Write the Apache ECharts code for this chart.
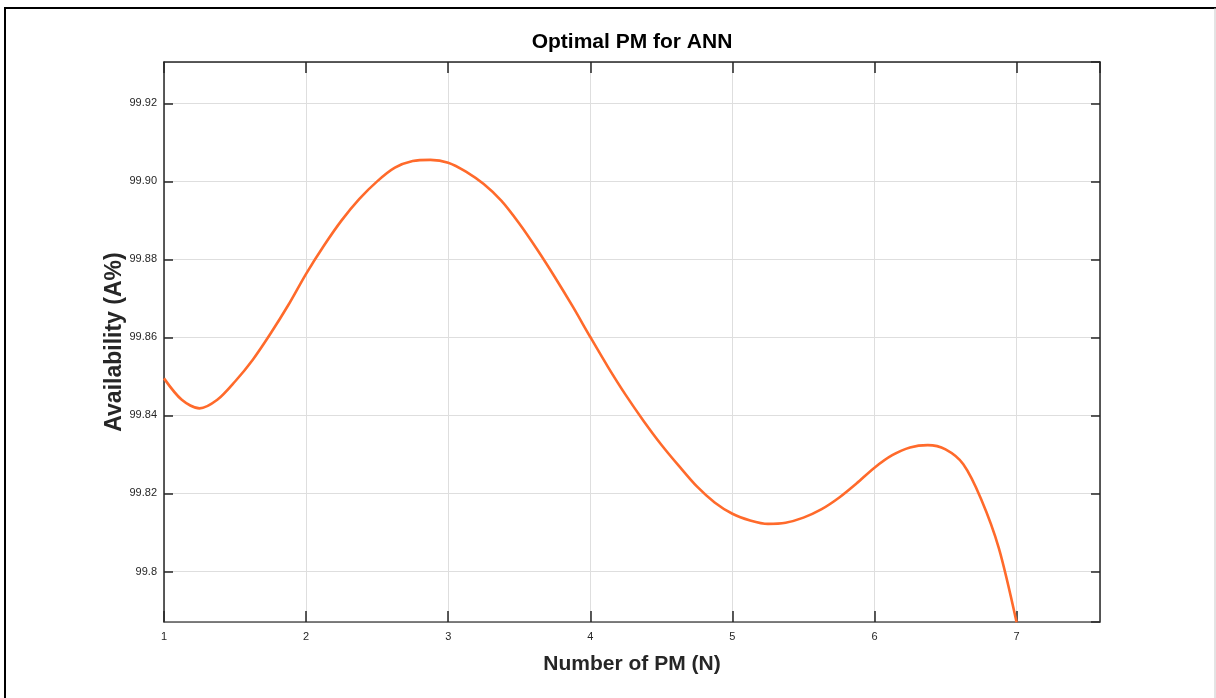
<!DOCTYPE html>
<html>
<head>
<meta charset="utf-8">
<title>Optimal PM for ANN</title>
<script src="https://cdn.jsdelivr.net/npm/echarts@6/dist/echarts.min.js"></script>
<style>
  html, body { margin: 0; padding: 0; background: #fff; }
  #chart { width: 1216px; height: 698px; }
</style>
</head>
<body>
<div id="chart"></div>
<script>
// 数据：读图得到的曲线点
var pmNumber = [1.000, 1.125, 1.250, 1.375, 1.500, 1.625, 1.750, 1.875, 2.000, 2.125,
  2.250, 2.375, 2.500, 2.625, 2.750, 2.875, 3.000, 3.125, 3.250, 3.375, 3.500, 3.625,
  3.750, 3.875, 4.000, 4.125, 4.250, 4.375, 4.500, 4.625, 4.750, 4.875, 5.000, 5.125,
  5.250, 5.375, 5.500, 5.625, 5.750, 5.875, 6.000, 6.125, 6.250, 6.375, 6.500, 6.625,
  6.750, 6.875, 7.000];
var availability = [99.8495, 99.8440, 99.8418, 99.8440, 99.8487, 99.8543, 99.8610, 99.8683,
  99.8763, 99.8835, 99.8900, 99.8955, 99.9000, 99.9035, 99.9052, 99.9055, 99.9048, 99.9025,
  99.8993, 99.8950, 99.8892, 99.8826, 99.8755, 99.8680, 99.8601, 99.8524, 99.8452, 99.8386,
  99.8325, 99.8270, 99.8218, 99.8177, 99.8148, 99.8131, 99.8122, 99.8125, 99.8138, 99.8159,
  99.8189, 99.8226, 99.8266, 99.8298, 99.8318, 99.8324, 99.8313, 99.8275, 99.8186, 99.8060,
  99.7870];
var xRange = [1, 7.587];
var yRange = [99.78705, 99.9306];

var chart = echarts.init(document.getElementById("chart"));
var textColor = "#262626";
var fontFamily = "'Liberation Sans', Arial, sans-serif";

function yLabel(v) {
  if (Math.abs(v - 99.8) < 1e-6) return "99.8";
  return v.toFixed(2);
}

var points = pmNumber.map(function (x, i) {
  return [x, availability[i]];
});

chart.setOption({
  animation: false,
  textStyle: { fontFamily: fontFamily },
  grid: { left: 164, top: 62, right: 116, bottom: 76 },
  graphic: [
    // 外框
    { type: "line", shape: { x1: 4, y1: 8, x2: 1216, y2: 8 }, style: { stroke: "#000", lineWidth: 2 } },
    { type: "line", shape: { x1: 5, y1: 8, x2: 5, y2: 698 }, style: { stroke: "#000", lineWidth: 2 } },
    { type: "line", shape: { x1: 1215, y1: 8, x2: 1215, y2: 698 }, style: { stroke: "#c8c8c8", lineWidth: 1 } },
    {
      type: "text",
      x: 632,
      y: 42,
      style: {
        text: "Optimal PM for ANN",
        fill: "#000",
        font: "bold 21px " + fontFamily,
        align: "center",
        verticalAlign: "middle"
      }
    }
  ],
  xAxis: [
    {
      type: "value",
      min: xRange[0],
      max: xRange[1],
      interval: 1,
      name: "Number of PM (N)",
      nameLocation: "middle",
      nameGap: 32,
      nameTextStyle: { color: textColor, fontSize: 21, fontWeight: "bold" },
      axisLine: { show: true, lineStyle: { color: "#555", width: 1.5 } },
      axisTick: { show: true, inside: true, length: 11, lineStyle: { color: textColor, width: 1.5 } },
      axisLabel: {
        color: textColor,
        fontSize: 11,
        margin: 9,
        showMaxLabel: false,
        formatter: function (v) { return Number.isInteger(v) ? String(v) : ""; }
      },
      splitLine: { show: true, lineStyle: { color: "#dedede", width: 1 } }
    },
    {
      type: "value",
      position: "top",
      min: xRange[0],
      max: xRange[1],
      interval: 1,
      axisLine: { show: true, onZero: false, lineStyle: { color: textColor, width: 1.5 } },
      axisTick: { show: true, inside: true, length: 11, lineStyle: { color: textColor, width: 1.5 } },
      axisLabel: { show: false },
      splitLine: { show: false }
    }
  ],
  yAxis: [
    {
      type: "value",
      min: yRange[0],
      max: yRange[1],
      splitNumber: 7,
      minInterval: 0.02,
      maxInterval: 0.02,
      name: "Availability (A%)",
      nameLocation: "middle",
      nameGap: 38,
      nameMoveOverlap: false,
      nameTextStyle: { color: textColor, fontSize: 23, fontWeight: "bold" },
      axisLine: { show: true, onZero: false, lineStyle: { color: textColor, width: 1.5 } },
      axisTick: { show: true, inside: true, length: 9, lineStyle: { color: textColor, width: 1.5 } },
      axisLabel: {
        color: textColor,
        fontSize: 11,
        margin: 7,
        showMinLabel: false,
        showMaxLabel: false,
        formatter: yLabel
      },
      splitLine: { show: true, lineStyle: { color: "#dedede", width: 1 } }
    },
    {
      type: "value",
      position: "right",
      min: yRange[0],
      max: yRange[1],
      splitNumber: 7,
      minInterval: 0.02,
      maxInterval: 0.02,
      axisLine: { show: true, onZero: false, lineStyle: { color: textColor, width: 1.5 } },
      axisTick: { show: true, inside: true, length: 9, lineStyle: { color: textColor, width: 1.5 } },
      axisLabel: { show: false },
      splitLine: { show: false }
    }
  ],
  series: [
    {
      name: "Availability",
      type: "line",
      smooth: 0.3,
      symbol: "none",
      clip: true,
      lineStyle: { color: "#ff6a2b", width: 2.6 },
      data: points
    }
  ]
});
</script>
</body>
</html>
